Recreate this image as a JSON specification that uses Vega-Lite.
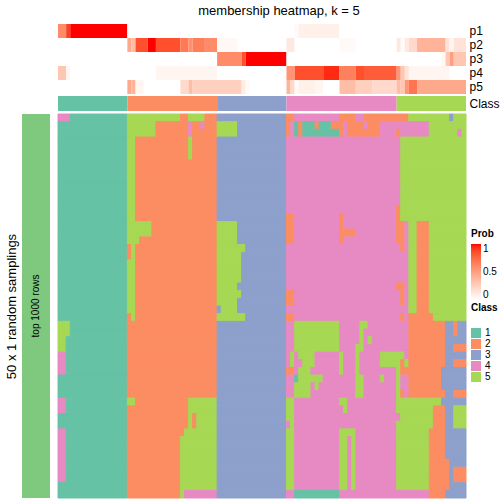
{
"$schema": "https://vega.github.io/schema/vega-lite/v6.json",
"padding": 5,
"config": {"view": {"stroke": null}, "font": "Liberation Sans"},
"title": {"text": "membership heatmap, k = 5", "fontSize": 13, "fontWeight": "normal", "color": "black", "anchor": "middle", "offset": 6, "dx": 27},
"columns": 2,
"spacing": {"row": 2, "column": 7},
"datasets": {
"prob": [
{"p":"p1","s":0,"e":2,"v":0.6},{"p":"p1","s":2,"e":3,"v":0.9},{"p":"p1","s":3,"e":17,"v":1},{"p":"p1","s":17,"e":58,"v":0},{"p":"p1","s":58,"e":59,"v":0.03},{"p":"p1","s":59,"e":69,"v":0.08},{"p":"p1","s":69,"e":100,"v":0},
{"p":"p2","s":0,"e":17,"v":0},{"p":"p2","s":17,"e":18,"v":0.45},{"p":"p2","s":18,"e":19,"v":0.35},{"p":"p2","s":19,"e":22,"v":0.85},{"p":"p2","s":22,"e":24,"v":1},{"p":"p2","s":24,"e":30,"v":0.85},{"p":"p2","s":30,"e":32,"v":0.68},{"p":"p2","s":32,"e":33,"v":0.58},{"p":"p2","s":33,"e":36,"v":0.66},{"p":"p2","s":36,"e":39,"v":0.6},{"p":"p2","s":39,"e":44,"v":0.04},{"p":"p2","s":44,"e":56,"v":0},{"p":"p2","s":56,"e":58,"v":0.12},{"p":"p2","s":58,"e":69,"v":0},{"p":"p2","s":69,"e":73,"v":0.03},{"p":"p2","s":73,"e":83,"v":0},{"p":"p2","s":83,"e":84,"v":0.12},{"p":"p2","s":84,"e":85,"v":0.02},{"p":"p2","s":85,"e":86,"v":0.12},{"p":"p2","s":86,"e":88,"v":0.2},{"p":"p2","s":88,"e":95,"v":0.4},{"p":"p2","s":95,"e":96,"v":0.15},{"p":"p2","s":96,"e":97,"v":0.05},{"p":"p2","s":97,"e":100,"v":0.15},
{"p":"p3","s":0,"e":39,"v":0},{"p":"p3","s":39,"e":45,"v":0.6},{"p":"p3","s":45,"e":46,"v":0.85},{"p":"p3","s":46,"e":56,"v":1},{"p":"p3","s":56,"e":94,"v":0},{"p":"p3","s":94,"e":95,"v":0.04},{"p":"p3","s":95,"e":96,"v":0.3},{"p":"p3","s":96,"e":97,"v":0.5},{"p":"p3","s":97,"e":100,"v":0.3},
{"p":"p4","s":0,"e":2,"v":0.3},{"p":"p4","s":2,"e":3,"v":0.05},{"p":"p4","s":3,"e":24,"v":0},{"p":"p4","s":24,"e":39,"v":0.05},{"p":"p4","s":39,"e":56,"v":0},{"p":"p4","s":56,"e":58,"v":0.55},{"p":"p4","s":58,"e":65,"v":0.85},{"p":"p4","s":65,"e":69,"v":0.95},{"p":"p4","s":69,"e":73,"v":0.65},{"p":"p4","s":73,"e":75,"v":0.85},{"p":"p4","s":75,"e":83,"v":0.8},{"p":"p4","s":83,"e":84,"v":0.55},{"p":"p4","s":84,"e":85,"v":0.3},{"p":"p4","s":85,"e":86,"v":0.15},{"p":"p4","s":86,"e":96,"v":0.05},{"p":"p4","s":96,"e":100,"v":0},
{"p":"p5","s":0,"e":17,"v":0},{"p":"p5","s":17,"e":18,"v":0.45},{"p":"p5","s":18,"e":19,"v":0.4},{"p":"p5","s":19,"e":21,"v":0.05},{"p":"p5","s":21,"e":30,"v":0},{"p":"p5","s":30,"e":32,"v":0.2},{"p":"p5","s":32,"e":33,"v":0.35},{"p":"p5","s":33,"e":45,"v":0.25},{"p":"p5","s":45,"e":46,"v":0.1},{"p":"p5","s":46,"e":47,"v":0.03},{"p":"p5","s":47,"e":56,"v":0},{"p":"p5","s":56,"e":57,"v":0.4},{"p":"p5","s":57,"e":58,"v":0.2},{"p":"p5","s":58,"e":59,"v":0.03},{"p":"p5","s":59,"e":63,"v":0.08},{"p":"p5","s":63,"e":65,"v":0.05},{"p":"p5","s":65,"e":69,"v":0},{"p":"p5","s":69,"e":73,"v":0.35},{"p":"p5","s":73,"e":77,"v":0.25},{"p":"p5","s":77,"e":83,"v":0.2},{"p":"p5","s":83,"e":84,"v":0.35},{"p":"p5","s":84,"e":85,"v":0.3},{"p":"p5","s":85,"e":86,"v":0.55},{"p":"p5","s":86,"e":88,"v":0.7},{"p":"p5","s":88,"e":100,"v":0.45}
],
"cls": [
{"s":0,"e":17,"c":1},{"s":17,"e":39,"c":2},{"s":39,"e":56,"c":3},{"s":56,"e":83,"c":4},{"s":83,"e":100,"c":5}
],
"grid": [
{"r":0,"s":0,"e":3,"c":4},{"r":0,"s":3,"e":17,"c":1},{"r":0,"s":17,"e":30,"c":5},{"r":0,"s":30,"e":32,"c":2},{"r":0,"s":32,"e":36,"c":5},{"r":0,"s":36,"e":39,"c":2},{"r":0,"s":39,"e":56,"c":3},{"r":0,"s":56,"e":58,"c":2},{"r":0,"s":58,"e":69,"c":4},{"r":0,"s":69,"e":73,"c":2},{"r":0,"s":73,"e":75,"c":4},{"r":0,"s":75,"e":86,"c":2},{"r":0,"s":86,"e":96,"c":5},{"r":0,"s":96,"e":97,"c":3},{"r":0,"s":97,"e":100,"c":5},
{"r":1,"s":0,"e":17,"c":1},{"r":1,"s":17,"e":24,"c":5},{"r":1,"s":24,"e":32,"c":2},{"r":1,"s":32,"e":33,"c":4},{"r":1,"s":33,"e":35,"c":2},{"r":1,"s":35,"e":36,"c":4},{"r":1,"s":36,"e":39,"c":2},{"r":1,"s":39,"e":44,"c":5},{"r":1,"s":44,"e":56,"c":3},{"r":1,"s":56,"e":57,"c":2},{"r":1,"s":57,"e":58,"c":4},{"r":1,"s":58,"e":59,"c":1},{"r":1,"s":59,"e":60,"c":2},{"r":1,"s":60,"e":63,"c":1},{"r":1,"s":63,"e":64,"c":2},{"r":1,"s":64,"e":67,"c":1},{"r":1,"s":67,"e":70,"c":2},{"r":1,"s":70,"e":71,"c":4},{"r":1,"s":71,"e":75,"c":2},{"r":1,"s":75,"e":76,"c":4},{"r":1,"s":76,"e":79,"c":2},{"r":1,"s":79,"e":91,"c":4},{"r":1,"s":91,"e":100,"c":5},
{"r":2,"s":0,"e":17,"c":1},{"r":2,"s":17,"e":24,"c":5},{"r":2,"s":24,"e":32,"c":2},{"r":2,"s":32,"e":33,"c":4},{"r":2,"s":33,"e":39,"c":2},{"r":2,"s":39,"e":44,"c":5},{"r":2,"s":44,"e":56,"c":3},{"r":2,"s":56,"e":57,"c":2},{"r":2,"s":57,"e":58,"c":4},{"r":2,"s":58,"e":59,"c":1},{"r":2,"s":59,"e":60,"c":2},{"r":2,"s":60,"e":69,"c":1},{"r":2,"s":69,"e":70,"c":2},{"r":2,"s":70,"e":71,"c":4},{"r":2,"s":71,"e":79,"c":2},{"r":2,"s":79,"e":83,"c":4},{"r":2,"s":83,"e":84,"c":2},{"r":2,"s":84,"e":91,"c":4},{"r":2,"s":91,"e":98,"c":5},{"r":2,"s":98,"e":99,"c":4},{"r":2,"s":99,"e":100,"c":5},
{"r":3,"s":0,"e":17,"c":1},{"r":3,"s":17,"e":19,"c":5},{"r":3,"s":19,"e":32,"c":2},{"r":3,"s":32,"e":33,"c":5},{"r":3,"s":33,"e":39,"c":2},{"r":3,"s":39,"e":56,"c":3},{"r":3,"s":56,"e":84,"c":4},{"r":3,"s":84,"e":100,"c":5},
{"r":4,"s":0,"e":17,"c":1},{"r":4,"s":17,"e":19,"c":5},{"r":4,"s":19,"e":32,"c":2},{"r":4,"s":32,"e":33,"c":5},{"r":4,"s":33,"e":39,"c":2},{"r":4,"s":39,"e":56,"c":3},{"r":4,"s":56,"e":84,"c":4},{"r":4,"s":84,"e":100,"c":5},
{"r":5,"s":0,"e":17,"c":1},{"r":5,"s":17,"e":19,"c":5},{"r":5,"s":19,"e":32,"c":2},{"r":5,"s":32,"e":33,"c":5},{"r":5,"s":33,"e":39,"c":2},{"r":5,"s":39,"e":56,"c":3},{"r":5,"s":56,"e":84,"c":4},{"r":5,"s":84,"e":100,"c":5},
{"r":6,"s":0,"e":17,"c":1},{"r":6,"s":17,"e":19,"c":5},{"r":6,"s":19,"e":39,"c":2},{"r":6,"s":39,"e":56,"c":3},{"r":6,"s":56,"e":84,"c":4},{"r":6,"s":84,"e":100,"c":5},
{"r":7,"s":0,"e":17,"c":1},{"r":7,"s":17,"e":19,"c":5},{"r":7,"s":19,"e":39,"c":2},{"r":7,"s":39,"e":56,"c":3},{"r":7,"s":56,"e":84,"c":4},{"r":7,"s":84,"e":100,"c":5},
{"r":8,"s":0,"e":17,"c":1},{"r":8,"s":17,"e":19,"c":5},{"r":8,"s":19,"e":39,"c":2},{"r":8,"s":39,"e":56,"c":3},{"r":8,"s":56,"e":84,"c":4},{"r":8,"s":84,"e":100,"c":5},
{"r":9,"s":0,"e":17,"c":1},{"r":9,"s":17,"e":19,"c":5},{"r":9,"s":19,"e":39,"c":2},{"r":9,"s":39,"e":56,"c":3},{"r":9,"s":56,"e":84,"c":4},{"r":9,"s":84,"e":100,"c":5},
{"r":10,"s":0,"e":17,"c":1},{"r":10,"s":17,"e":19,"c":5},{"r":10,"s":19,"e":39,"c":2},{"r":10,"s":39,"e":56,"c":3},{"r":10,"s":56,"e":84,"c":4},{"r":10,"s":84,"e":100,"c":5},
{"r":11,"s":0,"e":17,"c":1},{"r":11,"s":17,"e":19,"c":5},{"r":11,"s":19,"e":39,"c":2},{"r":11,"s":39,"e":56,"c":3},{"r":11,"s":56,"e":84,"c":4},{"r":11,"s":84,"e":100,"c":5},
{"r":12,"s":0,"e":17,"c":1},{"r":12,"s":17,"e":19,"c":5},{"r":12,"s":19,"e":39,"c":2},{"r":12,"s":39,"e":56,"c":3},{"r":12,"s":56,"e":83,"c":4},{"r":12,"s":83,"e":84,"c":2},{"r":12,"s":84,"e":100,"c":5},
{"r":13,"s":0,"e":17,"c":1},{"r":13,"s":17,"e":19,"c":5},{"r":13,"s":19,"e":39,"c":2},{"r":13,"s":39,"e":56,"c":3},{"r":13,"s":56,"e":58,"c":2},{"r":13,"s":58,"e":69,"c":4},{"r":13,"s":69,"e":70,"c":2},{"r":13,"s":70,"e":83,"c":4},{"r":13,"s":83,"e":84,"c":2},{"r":13,"s":84,"e":100,"c":5},
{"r":14,"s":0,"e":17,"c":1},{"r":14,"s":17,"e":23,"c":5},{"r":14,"s":23,"e":39,"c":2},{"r":14,"s":39,"e":44,"c":5},{"r":14,"s":44,"e":56,"c":3},{"r":14,"s":56,"e":58,"c":2},{"r":14,"s":58,"e":69,"c":4},{"r":14,"s":69,"e":70,"c":2},{"r":14,"s":70,"e":83,"c":4},{"r":14,"s":83,"e":85,"c":2},{"r":14,"s":85,"e":86,"c":4},{"r":14,"s":86,"e":88,"c":5},{"r":14,"s":88,"e":91,"c":2},{"r":14,"s":91,"e":100,"c":5},
{"r":15,"s":0,"e":17,"c":1},{"r":15,"s":17,"e":23,"c":5},{"r":15,"s":23,"e":39,"c":2},{"r":15,"s":39,"e":44,"c":5},{"r":15,"s":44,"e":56,"c":3},{"r":15,"s":56,"e":58,"c":2},{"r":15,"s":58,"e":69,"c":4},{"r":15,"s":69,"e":73,"c":2},{"r":15,"s":73,"e":83,"c":4},{"r":15,"s":83,"e":85,"c":2},{"r":15,"s":85,"e":86,"c":4},{"r":15,"s":86,"e":88,"c":5},{"r":15,"s":88,"e":91,"c":2},{"r":15,"s":91,"e":100,"c":5},
{"r":16,"s":0,"e":17,"c":1},{"r":16,"s":17,"e":20,"c":5},{"r":16,"s":20,"e":39,"c":2},{"r":16,"s":39,"e":44,"c":5},{"r":16,"s":44,"e":56,"c":3},{"r":16,"s":56,"e":58,"c":2},{"r":16,"s":58,"e":69,"c":4},{"r":16,"s":69,"e":70,"c":2},{"r":16,"s":70,"e":83,"c":4},{"r":16,"s":83,"e":85,"c":2},{"r":16,"s":85,"e":86,"c":4},{"r":16,"s":86,"e":88,"c":5},{"r":16,"s":88,"e":91,"c":2},{"r":16,"s":91,"e":100,"c":5},
{"r":17,"s":0,"e":17,"c":1},{"r":17,"s":17,"e":18,"c":2},{"r":17,"s":18,"e":19,"c":5},{"r":17,"s":19,"e":39,"c":2},{"r":17,"s":39,"e":46,"c":5},{"r":17,"s":46,"e":56,"c":3},{"r":17,"s":56,"e":84,"c":4},{"r":17,"s":84,"e":85,"c":2},{"r":17,"s":85,"e":86,"c":4},{"r":17,"s":86,"e":88,"c":5},{"r":17,"s":88,"e":91,"c":2},{"r":17,"s":91,"e":100,"c":5},
{"r":18,"s":0,"e":17,"c":1},{"r":18,"s":17,"e":18,"c":2},{"r":18,"s":18,"e":19,"c":5},{"r":18,"s":19,"e":39,"c":2},{"r":18,"s":39,"e":45,"c":5},{"r":18,"s":45,"e":56,"c":3},{"r":18,"s":56,"e":86,"c":4},{"r":18,"s":86,"e":88,"c":5},{"r":18,"s":88,"e":91,"c":2},{"r":18,"s":91,"e":100,"c":5},
{"r":19,"s":0,"e":17,"c":1},{"r":19,"s":17,"e":19,"c":5},{"r":19,"s":19,"e":39,"c":2},{"r":19,"s":39,"e":45,"c":5},{"r":19,"s":45,"e":56,"c":3},{"r":19,"s":56,"e":86,"c":4},{"r":19,"s":86,"e":88,"c":5},{"r":19,"s":88,"e":91,"c":2},{"r":19,"s":91,"e":100,"c":5},
{"r":20,"s":0,"e":17,"c":1},{"r":20,"s":17,"e":19,"c":5},{"r":20,"s":19,"e":39,"c":2},{"r":20,"s":39,"e":45,"c":5},{"r":20,"s":45,"e":56,"c":3},{"r":20,"s":56,"e":86,"c":4},{"r":20,"s":86,"e":88,"c":5},{"r":20,"s":88,"e":91,"c":2},{"r":20,"s":91,"e":100,"c":5},
{"r":21,"s":0,"e":17,"c":1},{"r":21,"s":17,"e":19,"c":5},{"r":21,"s":19,"e":39,"c":2},{"r":21,"s":39,"e":45,"c":5},{"r":21,"s":45,"e":56,"c":3},{"r":21,"s":56,"e":86,"c":4},{"r":21,"s":86,"e":88,"c":5},{"r":21,"s":88,"e":91,"c":2},{"r":21,"s":91,"e":100,"c":5},
{"r":22,"s":0,"e":17,"c":1},{"r":22,"s":17,"e":19,"c":5},{"r":22,"s":19,"e":39,"c":2},{"r":22,"s":39,"e":44,"c":5},{"r":22,"s":44,"e":56,"c":3},{"r":22,"s":56,"e":83,"c":4},{"r":22,"s":83,"e":85,"c":2},{"r":22,"s":85,"e":86,"c":4},{"r":22,"s":86,"e":88,"c":5},{"r":22,"s":88,"e":91,"c":2},{"r":22,"s":91,"e":100,"c":5},
{"r":23,"s":0,"e":17,"c":1},{"r":23,"s":17,"e":19,"c":5},{"r":23,"s":19,"e":39,"c":2},{"r":23,"s":39,"e":45,"c":5},{"r":23,"s":45,"e":56,"c":3},{"r":23,"s":56,"e":58,"c":2},{"r":23,"s":58,"e":84,"c":4},{"r":23,"s":84,"e":85,"c":2},{"r":23,"s":85,"e":86,"c":4},{"r":23,"s":86,"e":88,"c":5},{"r":23,"s":88,"e":91,"c":2},{"r":23,"s":91,"e":100,"c":5},
{"r":24,"s":0,"e":17,"c":1},{"r":24,"s":17,"e":19,"c":5},{"r":24,"s":19,"e":39,"c":2},{"r":24,"s":39,"e":44,"c":5},{"r":24,"s":44,"e":56,"c":3},{"r":24,"s":56,"e":58,"c":2},{"r":24,"s":58,"e":84,"c":4},{"r":24,"s":84,"e":85,"c":2},{"r":24,"s":85,"e":86,"c":4},{"r":24,"s":86,"e":88,"c":5},{"r":24,"s":88,"e":91,"c":2},{"r":24,"s":91,"e":100,"c":5},
{"r":25,"s":0,"e":17,"c":1},{"r":25,"s":17,"e":19,"c":5},{"r":25,"s":19,"e":39,"c":2},{"r":25,"s":39,"e":40,"c":3},{"r":25,"s":40,"e":44,"c":5},{"r":25,"s":44,"e":56,"c":3},{"r":25,"s":56,"e":86,"c":4},{"r":25,"s":86,"e":88,"c":5},{"r":25,"s":88,"e":91,"c":2},{"r":25,"s":91,"e":100,"c":5},
{"r":26,"s":0,"e":17,"c":1},{"r":26,"s":17,"e":18,"c":2},{"r":26,"s":18,"e":19,"c":5},{"r":26,"s":19,"e":39,"c":2},{"r":26,"s":39,"e":46,"c":5},{"r":26,"s":46,"e":56,"c":3},{"r":26,"s":56,"e":58,"c":2},{"r":26,"s":58,"e":84,"c":4},{"r":26,"s":84,"e":85,"c":2},{"r":26,"s":85,"e":86,"c":4},{"r":26,"s":86,"e":92,"c":2},{"r":26,"s":92,"e":100,"c":5},
{"r":27,"s":0,"e":3,"c":5},{"r":27,"s":3,"e":17,"c":1},{"r":27,"s":17,"e":39,"c":2},{"r":27,"s":39,"e":56,"c":3},{"r":27,"s":56,"e":58,"c":4},{"r":27,"s":58,"e":69,"c":5},{"r":27,"s":69,"e":74,"c":4},{"r":27,"s":74,"e":76,"c":5},{"r":27,"s":76,"e":86,"c":4},{"r":27,"s":86,"e":95,"c":2},{"r":27,"s":95,"e":97,"c":3},{"r":27,"s":97,"e":98,"c":2},{"r":27,"s":98,"e":100,"c":3},
{"r":28,"s":0,"e":3,"c":5},{"r":28,"s":3,"e":17,"c":1},{"r":28,"s":17,"e":39,"c":2},{"r":28,"s":39,"e":56,"c":3},{"r":28,"s":56,"e":58,"c":4},{"r":28,"s":58,"e":69,"c":5},{"r":28,"s":69,"e":74,"c":4},{"r":28,"s":74,"e":75,"c":5},{"r":28,"s":75,"e":86,"c":4},{"r":28,"s":86,"e":95,"c":2},{"r":28,"s":95,"e":97,"c":3},{"r":28,"s":97,"e":98,"c":2},{"r":28,"s":98,"e":100,"c":3},
{"r":29,"s":0,"e":2,"c":5},{"r":29,"s":2,"e":17,"c":1},{"r":29,"s":17,"e":39,"c":2},{"r":29,"s":39,"e":56,"c":3},{"r":29,"s":56,"e":58,"c":4},{"r":29,"s":58,"e":69,"c":5},{"r":29,"s":69,"e":74,"c":4},{"r":29,"s":74,"e":75,"c":5},{"r":29,"s":75,"e":76,"c":4},{"r":29,"s":76,"e":77,"c":5},{"r":29,"s":77,"e":86,"c":4},{"r":29,"s":86,"e":95,"c":2},{"r":29,"s":95,"e":100,"c":3},
{"r":30,"s":0,"e":2,"c":5},{"r":30,"s":2,"e":17,"c":1},{"r":30,"s":17,"e":39,"c":2},{"r":30,"s":39,"e":56,"c":3},{"r":30,"s":56,"e":58,"c":4},{"r":30,"s":58,"e":69,"c":5},{"r":30,"s":69,"e":73,"c":4},{"r":30,"s":73,"e":75,"c":5},{"r":30,"s":75,"e":86,"c":4},{"r":30,"s":86,"e":95,"c":2},{"r":30,"s":95,"e":97,"c":3},{"r":30,"s":97,"e":100,"c":2},
{"r":31,"s":0,"e":2,"c":4},{"r":31,"s":2,"e":17,"c":1},{"r":31,"s":17,"e":39,"c":2},{"r":31,"s":39,"e":56,"c":3},{"r":31,"s":56,"e":57,"c":4},{"r":31,"s":57,"e":58,"c":5},{"r":31,"s":58,"e":59,"c":4},{"r":31,"s":59,"e":63,"c":5},{"r":31,"s":63,"e":69,"c":4},{"r":31,"s":69,"e":70,"c":5},{"r":31,"s":70,"e":73,"c":4},{"r":31,"s":73,"e":74,"c":5},{"r":31,"s":74,"e":79,"c":4},{"r":31,"s":79,"e":85,"c":5},{"r":31,"s":85,"e":86,"c":4},{"r":31,"s":86,"e":95,"c":2},{"r":31,"s":95,"e":100,"c":3},
{"r":32,"s":0,"e":2,"c":4},{"r":32,"s":2,"e":17,"c":1},{"r":32,"s":17,"e":39,"c":2},{"r":32,"s":39,"e":56,"c":3},{"r":32,"s":56,"e":57,"c":4},{"r":32,"s":57,"e":58,"c":5},{"r":32,"s":58,"e":60,"c":4},{"r":32,"s":60,"e":63,"c":5},{"r":32,"s":63,"e":69,"c":4},{"r":32,"s":69,"e":70,"c":5},{"r":32,"s":70,"e":73,"c":4},{"r":32,"s":73,"e":74,"c":5},{"r":32,"s":74,"e":79,"c":4},{"r":32,"s":79,"e":84,"c":5},{"r":32,"s":84,"e":85,"c":2},{"r":32,"s":85,"e":86,"c":5},{"r":32,"s":86,"e":95,"c":2},{"r":32,"s":95,"e":97,"c":3},{"r":32,"s":97,"e":100,"c":2},
{"r":33,"s":0,"e":2,"c":4},{"r":33,"s":2,"e":17,"c":1},{"r":33,"s":17,"e":39,"c":2},{"r":33,"s":39,"e":56,"c":3},{"r":33,"s":56,"e":58,"c":2},{"r":33,"s":58,"e":59,"c":4},{"r":33,"s":59,"e":62,"c":5},{"r":33,"s":62,"e":69,"c":4},{"r":33,"s":69,"e":70,"c":5},{"r":33,"s":70,"e":73,"c":4},{"r":33,"s":73,"e":74,"c":5},{"r":33,"s":74,"e":83,"c":4},{"r":33,"s":83,"e":84,"c":5},{"r":33,"s":84,"e":94,"c":2},{"r":33,"s":94,"e":100,"c":3},
{"r":34,"s":0,"e":17,"c":1},{"r":34,"s":17,"e":39,"c":2},{"r":34,"s":39,"e":56,"c":3},{"r":34,"s":56,"e":58,"c":4},{"r":34,"s":58,"e":59,"c":1},{"r":34,"s":59,"e":65,"c":5},{"r":34,"s":65,"e":73,"c":4},{"r":34,"s":73,"e":75,"c":5},{"r":34,"s":75,"e":79,"c":4},{"r":34,"s":79,"e":80,"c":5},{"r":34,"s":80,"e":83,"c":4},{"r":34,"s":83,"e":84,"c":5},{"r":34,"s":84,"e":86,"c":4},{"r":34,"s":86,"e":94,"c":2},{"r":34,"s":94,"e":100,"c":3},
{"r":35,"s":0,"e":17,"c":1},{"r":35,"s":17,"e":39,"c":2},{"r":35,"s":39,"e":56,"c":3},{"r":35,"s":56,"e":58,"c":4},{"r":35,"s":58,"e":62,"c":5},{"r":35,"s":62,"e":63,"c":4},{"r":35,"s":63,"e":64,"c":5},{"r":35,"s":64,"e":73,"c":4},{"r":35,"s":73,"e":75,"c":5},{"r":35,"s":75,"e":83,"c":4},{"r":35,"s":83,"e":84,"c":5},{"r":35,"s":84,"e":86,"c":4},{"r":35,"s":86,"e":94,"c":2},{"r":35,"s":94,"e":100,"c":3},
{"r":36,"s":0,"e":17,"c":1},{"r":36,"s":17,"e":39,"c":2},{"r":36,"s":39,"e":56,"c":3},{"r":36,"s":56,"e":58,"c":4},{"r":36,"s":58,"e":62,"c":5},{"r":36,"s":62,"e":73,"c":4},{"r":36,"s":73,"e":75,"c":5},{"r":36,"s":75,"e":83,"c":4},{"r":36,"s":83,"e":84,"c":5},{"r":36,"s":84,"e":85,"c":2},{"r":36,"s":85,"e":86,"c":4},{"r":36,"s":86,"e":95,"c":2},{"r":36,"s":95,"e":97,"c":3},{"r":36,"s":97,"e":100,"c":2},
{"r":37,"s":0,"e":2,"c":4},{"r":37,"s":2,"e":17,"c":1},{"r":37,"s":17,"e":19,"c":5},{"r":37,"s":19,"e":32,"c":2},{"r":37,"s":32,"e":39,"c":5},{"r":37,"s":39,"e":56,"c":3},{"r":37,"s":56,"e":58,"c":5},{"r":37,"s":58,"e":69,"c":4},{"r":37,"s":69,"e":71,"c":5},{"r":37,"s":71,"e":83,"c":4},{"r":37,"s":83,"e":94,"c":5},{"r":37,"s":94,"e":100,"c":3},
{"r":38,"s":0,"e":2,"c":4},{"r":38,"s":2,"e":17,"c":1},{"r":38,"s":17,"e":32,"c":2},{"r":38,"s":32,"e":39,"c":5},{"r":38,"s":39,"e":56,"c":3},{"r":38,"s":56,"e":58,"c":5},{"r":38,"s":58,"e":70,"c":4},{"r":38,"s":70,"e":71,"c":5},{"r":38,"s":71,"e":83,"c":4},{"r":38,"s":83,"e":92,"c":5},{"r":38,"s":92,"e":95,"c":2},{"r":38,"s":95,"e":97,"c":3},{"r":38,"s":97,"e":100,"c":5},
{"r":39,"s":0,"e":17,"c":1},{"r":39,"s":17,"e":32,"c":2},{"r":39,"s":32,"e":33,"c":5},{"r":39,"s":33,"e":34,"c":2},{"r":39,"s":34,"e":39,"c":5},{"r":39,"s":39,"e":56,"c":3},{"r":39,"s":56,"e":58,"c":5},{"r":39,"s":58,"e":84,"c":4},{"r":39,"s":84,"e":92,"c":5},{"r":39,"s":92,"e":95,"c":2},{"r":39,"s":95,"e":97,"c":3},{"r":39,"s":97,"e":100,"c":5},
{"r":40,"s":0,"e":17,"c":1},{"r":40,"s":17,"e":32,"c":2},{"r":40,"s":32,"e":33,"c":5},{"r":40,"s":33,"e":34,"c":2},{"r":40,"s":34,"e":39,"c":5},{"r":40,"s":39,"e":56,"c":3},{"r":40,"s":56,"e":57,"c":4},{"r":40,"s":57,"e":58,"c":5},{"r":40,"s":58,"e":83,"c":4},{"r":40,"s":83,"e":92,"c":5},{"r":40,"s":92,"e":95,"c":2},{"r":40,"s":95,"e":97,"c":3},{"r":40,"s":97,"e":100,"c":5},
{"r":41,"s":0,"e":2,"c":4},{"r":41,"s":2,"e":17,"c":1},{"r":41,"s":17,"e":31,"c":2},{"r":41,"s":31,"e":39,"c":5},{"r":41,"s":39,"e":56,"c":3},{"r":41,"s":56,"e":58,"c":5},{"r":41,"s":58,"e":69,"c":4},{"r":41,"s":69,"e":73,"c":5},{"r":41,"s":73,"e":83,"c":4},{"r":41,"s":83,"e":91,"c":5},{"r":41,"s":91,"e":95,"c":2},{"r":41,"s":95,"e":100,"c":3},
{"r":42,"s":0,"e":2,"c":4},{"r":42,"s":2,"e":17,"c":1},{"r":42,"s":17,"e":30,"c":2},{"r":42,"s":30,"e":39,"c":5},{"r":42,"s":39,"e":56,"c":3},{"r":42,"s":56,"e":58,"c":5},{"r":42,"s":58,"e":69,"c":4},{"r":42,"s":69,"e":71,"c":5},{"r":42,"s":71,"e":72,"c":4},{"r":42,"s":72,"e":73,"c":5},{"r":42,"s":73,"e":83,"c":4},{"r":42,"s":83,"e":91,"c":5},{"r":42,"s":91,"e":95,"c":2},{"r":42,"s":95,"e":100,"c":3},
{"r":43,"s":0,"e":2,"c":4},{"r":43,"s":2,"e":17,"c":1},{"r":43,"s":17,"e":30,"c":2},{"r":43,"s":30,"e":39,"c":5},{"r":43,"s":39,"e":56,"c":3},{"r":43,"s":56,"e":58,"c":5},{"r":43,"s":58,"e":69,"c":4},{"r":43,"s":69,"e":71,"c":5},{"r":43,"s":71,"e":72,"c":4},{"r":43,"s":72,"e":73,"c":5},{"r":43,"s":73,"e":83,"c":4},{"r":43,"s":83,"e":91,"c":5},{"r":43,"s":91,"e":95,"c":2},{"r":43,"s":95,"e":100,"c":3},
{"r":44,"s":0,"e":2,"c":4},{"r":44,"s":2,"e":17,"c":1},{"r":44,"s":17,"e":30,"c":2},{"r":44,"s":30,"e":39,"c":5},{"r":44,"s":39,"e":56,"c":3},{"r":44,"s":56,"e":58,"c":5},{"r":44,"s":58,"e":69,"c":4},{"r":44,"s":69,"e":71,"c":5},{"r":44,"s":71,"e":72,"c":4},{"r":44,"s":72,"e":73,"c":5},{"r":44,"s":73,"e":83,"c":4},{"r":44,"s":83,"e":91,"c":5},{"r":44,"s":91,"e":95,"c":2},{"r":44,"s":95,"e":100,"c":3},
{"r":45,"s":0,"e":2,"c":4},{"r":45,"s":2,"e":17,"c":1},{"r":45,"s":17,"e":30,"c":2},{"r":45,"s":30,"e":39,"c":5},{"r":45,"s":39,"e":56,"c":3},{"r":45,"s":56,"e":58,"c":5},{"r":45,"s":58,"e":69,"c":4},{"r":45,"s":69,"e":71,"c":5},{"r":45,"s":71,"e":72,"c":4},{"r":45,"s":72,"e":73,"c":5},{"r":45,"s":73,"e":83,"c":4},{"r":45,"s":83,"e":91,"c":5},{"r":45,"s":91,"e":96,"c":2},{"r":45,"s":96,"e":100,"c":3},
{"r":46,"s":0,"e":2,"c":4},{"r":46,"s":2,"e":17,"c":1},{"r":46,"s":17,"e":30,"c":2},{"r":46,"s":30,"e":39,"c":5},{"r":46,"s":39,"e":56,"c":3},{"r":46,"s":56,"e":58,"c":5},{"r":46,"s":58,"e":69,"c":4},{"r":46,"s":69,"e":71,"c":5},{"r":46,"s":71,"e":72,"c":4},{"r":46,"s":72,"e":73,"c":5},{"r":46,"s":73,"e":83,"c":4},{"r":46,"s":83,"e":91,"c":5},{"r":46,"s":91,"e":96,"c":2},{"r":46,"s":96,"e":97,"c":3},{"r":46,"s":97,"e":100,"c":2},
{"r":47,"s":0,"e":2,"c":4},{"r":47,"s":2,"e":17,"c":1},{"r":47,"s":17,"e":30,"c":2},{"r":47,"s":30,"e":39,"c":5},{"r":47,"s":39,"e":56,"c":3},{"r":47,"s":56,"e":58,"c":5},{"r":47,"s":58,"e":69,"c":4},{"r":47,"s":69,"e":71,"c":5},{"r":47,"s":71,"e":72,"c":4},{"r":47,"s":72,"e":73,"c":5},{"r":47,"s":73,"e":83,"c":4},{"r":47,"s":83,"e":91,"c":5},{"r":47,"s":91,"e":96,"c":2},{"r":47,"s":96,"e":97,"c":3},{"r":47,"s":97,"e":100,"c":2},
{"r":48,"s":0,"e":17,"c":1},{"r":48,"s":17,"e":30,"c":2},{"r":48,"s":30,"e":39,"c":5},{"r":48,"s":39,"e":56,"c":3},{"r":48,"s":56,"e":58,"c":5},{"r":48,"s":58,"e":69,"c":4},{"r":48,"s":69,"e":71,"c":5},{"r":48,"s":71,"e":72,"c":4},{"r":48,"s":72,"e":73,"c":5},{"r":48,"s":73,"e":83,"c":4},{"r":48,"s":83,"e":91,"c":5},{"r":48,"s":91,"e":96,"c":2},{"r":48,"s":96,"e":100,"c":3},
{"r":49,"s":0,"e":17,"c":1},{"r":49,"s":17,"e":30,"c":2},{"r":49,"s":30,"e":31,"c":5},{"r":49,"s":31,"e":39,"c":4},{"r":49,"s":39,"e":56,"c":3},{"r":49,"s":56,"e":58,"c":4},{"r":49,"s":58,"e":69,"c":1},{"r":49,"s":69,"e":91,"c":4},{"r":49,"s":91,"e":95,"c":2},{"r":49,"s":95,"e":100,"c":3}
]
},
"concat": [
{"width": 28, "height": 70, "data": {"values": []}, "mark": "rect"},
{"width": 408, "height": 70, "data": {"name": "prob"},
 "mark": {"type": "rect"},
 "encoding": {
  "x": {"field": "s", "type": "quantitative", "scale": {"domain": [0, 100], "nice": false, "zero": false}, "axis": null},
  "x2": {"field": "e"},
  "y": {"field": "p", "type": "nominal", "scale": {"paddingInner": 0, "paddingOuter": 0}, "axis": {"orient": "right", "title": null, "ticks": false, "domain": false, "labelFontSize": 12, "labelPadding": 3, "labelColor": "black"}},
  "color": {"field": "v", "type": "quantitative", "scale": {"domain": [0, 1], "range": ["#ffffff", "#ff0000"], "interpolate": "lab"},
   "legend": {"title": "Prob", "orient": "none", "legendX": 449, "legendY": 205, "values": [0, 0.5, 1], "format": "~g", "gradientLength": 56, "gradientThickness": 10, "gradientStrokeWidth": 0, "titleFontSize": 10, "titleFontWeight": "bold", "titleColor": "black", "labelFontSize": 10, "labelColor": "black", "direction": "vertical"}}
 }
},
{"width": 28, "height": 15, "data": {"values": []}, "mark": "rect"},
{"width": 408, "height": 15, "data": {"name": "cls"},
 "mark": {"type": "rect"},
 "encoding": {
  "x": {"field": "s", "type": "quantitative", "scale": {"domain": [0, 100], "nice": false, "zero": false}, "axis": null},
  "x2": {"field": "e"},
  "y": {"datum": "Class", "type": "nominal", "scale": {"paddingInner": 0, "paddingOuter": 0}, "axis": {"orient": "right", "title": null, "ticks": false, "domain": false, "labelFontSize": 12, "labelPadding": 3, "labelColor": "black"}},
  "fill": {"field": "c", "type": "nominal", "scale": {"domain": [1, 2, 3, 4, 5], "range": ["#66C2A5", "#FC8D62", "#8DA0CB", "#E78AC3", "#A6D854"]},
   "legend": {"title": "Class", "orient": "none", "legendX": 449, "legendY": 279, "titlePadding": 15, "symbolType": "square", "symbolSize": 100, "symbolStrokeWidth": 0, "rowPadding": 1, "titleFontSize": 10, "titleFontWeight": "bold", "titleColor": "black", "labelFontSize": 10, "labelColor": "black"}}
 }
},
{"width": 28, "height": 384, "data": {"values": [{"lab": "top 1000 rows"}]},
 "encoding": {"y": {"field": "lab", "type": "nominal", "scale": {"paddingInner": 0, "paddingOuter": 0}, "axis": {"title": "50 x 1 random samplings", "labels": false, "ticks": false, "domain": false, "titleFontSize": 13, "titleFontWeight": "normal", "titlePadding": 4, "titleColor": "black"}}},
 "layer": [
  {"mark": {"type": "rect", "color": "#7FC97F"}},
  {"mark": {"type": "text", "angle": 270, "fontSize": 10, "color": "black"}, "encoding": {"text": {"field": "lab"}}}
 ]
},
{"width": 408, "height": 384, "data": {"name": "grid"},
 "mark": {"type": "rect", "strokeWidth": 1},
 "encoding": {
  "x": {"field": "s", "type": "quantitative", "scale": {"domain": [0, 100], "nice": false, "zero": false}, "axis": null},
  "x2": {"field": "e"},
  "y": {"field": "r", "type": "ordinal", "sort": "ascending", "scale": {"paddingInner": 0, "paddingOuter": 0}, "axis": null},
  "fill": {"field": "c", "type": "nominal", "scale": {"domain": [1, 2, 3, 4, 5], "range": ["#66C2A5", "#FC8D62", "#8DA0CB", "#E78AC3", "#A6D854"]},
   "legend": {"title": "Class", "orient": "none", "legendX": 449, "legendY": 279, "titlePadding": 15, "symbolType": "square", "symbolSize": 100, "symbolStrokeWidth": 0, "rowPadding": 1, "titleFontSize": 10, "titleFontWeight": "bold", "titleColor": "black", "labelFontSize": 10, "labelColor": "black"}},
  "stroke": {"field": "c", "type": "nominal", "scale": {"domain": [1, 2, 3, 4, 5], "range": ["#66C2A5", "#FC8D62", "#8DA0CB", "#E78AC3", "#A6D854"]}, "legend": null}
 }
}
]
}
